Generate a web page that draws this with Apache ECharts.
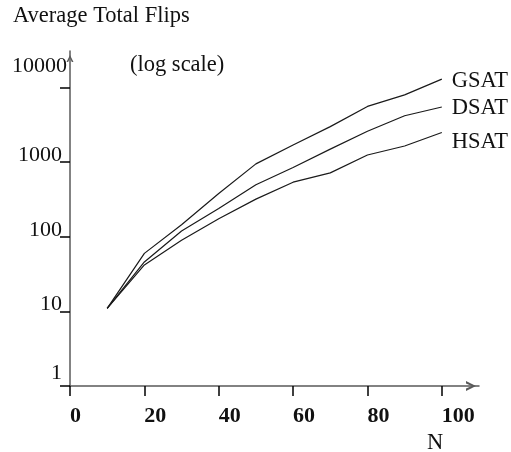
<!DOCTYPE html>
<html><head><meta charset="utf-8">
<script src="https://cdn.jsdelivr.net/npm/echarts@6/dist/echarts.min.js"></script>
<style>html,body{margin:0;padding:0;background:#fff}#c{width:511px;height:452px}</style>
</head><body><div id="c"></div>
<script>
const nValues = [10, 20, 30, 40, 50, 60, 70, 80, 90, 100];
const gsat = [11, 60, 145, 380, 950, 1700, 3000, 5600, 8000, 13000];
const dsat = [11, 46, 120, 240, 500, 850, 1500, 2600, 4200, 5500];
const hsat = [11, 42, 90, 175, 320, 540, 720, 1250, 1650, 2500];
const seriesNames = ['GSAT', 'DSAT', 'HSAT'];
const xTicks = [0, 20, 40, 60, 80, 100];
const yTicks = [1, 10, 100, 1000, 10000];
const yTitle = 'Average Total Flips';
const yNote = '(log scale)';
const xTitle = 'N';

const FONT = '"Liberation Serif", "Times New Roman", serif';
const TXT = 22.5;
const chart = echarts.init(document.getElementById('c'), null, {renderer: 'canvas'});
const seriesData = [gsat, dsat, hsat];
const labelOffsets = [[0, 2], [0, 1], [0, 10]];
const CHEVRON = 'path://M5,0 L10,10 L7.6,10 L5,4.2 L2.4,10 L0,10 Z';

function yLab(v) {
  if (v === 10000) return '{top|' + v + '}';
  if (v === 1) return '{one|' + v + '}';
  return '{mid|' + v + '}';
}

chart.setOption({
  animation: false,
  backgroundColor: '#fff',
  grid: {left: 70, right: 32, top: 51, bottom: 66, containLabel: false, outerBoundsMode: 'none'},
  xAxis: {
    type: 'value', min: 0, max: 110,
    axisLine: {show: true, lineStyle: {color: '#5a5a5a', width: 1.5},
      symbol: ['none', CHEVRON], symbolSize: [10, 16], symbolOffset: [0, -8]},
    axisTick: {show: true, length: 10, lineStyle: {color: '#000', width: 1.5}, customValues: xTicks},
    axisLabel: {show: true, customValues: xTicks, align: 'left', margin: 19, fontFamily: FONT, fontSize: 22, fontWeight: 'bold', color: '#111'},
    splitLine: {show: false}
  },
  yAxis: {
    type: 'log', logBase: 10, min: 1, max: 31000,
    axisLine: {show: true, lineStyle: {color: '#5a5a5a', width: 1.5},
      symbol: ['none', CHEVRON], symbolSize: [7, 15], symbolOffset: [0, -7.5]},
    axisTick: {show: true, length: 10, lineStyle: {color: '#000', width: 1.5}, customValues: yTicks},
    axisLabel: {show: true, customValues: yTicks, margin: 3, fontFamily: FONT, fontSize: 22, color: '#111',
      verticalAlign: 'middle',
      formatter: yLab,
      rich: {
        top: {fontFamily: FONT, fontSize: 22, color: '#111', padding: [0, 0, 43, 0]},
        mid: {fontFamily: FONT, fontSize: 22, color: '#111', padding: [0, 5, 14, 0]},
        one: {fontFamily: FONT, fontSize: 22, color: '#111', padding: [0, 5, 26, 0]}
      }},
    splitLine: {show: false}
  },
  graphic: [
    {type: 'text', left: 13, top: 5, style: {text: yTitle, font: TXT + 'px ' + FONT, fill: '#111'}},
    {type: 'text', left: 130, top: 54, style: {text: yNote, font: TXT + 'px ' + FONT, fill: '#111'}},
    {type: 'text', left: 427, top: 432, style: {text: xTitle, font: TXT + 'px ' + FONT, fill: '#111'}}
  ],
  series: seriesNames.map((name, i) => ({
    name: name,
    type: 'line',
    data: nValues.map((n, j) => [n, seriesData[i][j]]),
    showSymbol: false,
    symbol: 'none',
    lineStyle: {color: '#1a1a1a', width: 1.2},
    endLabel: {show: true, formatter: '{a}', distance: 10, offset: labelOffsets[i],
      fontFamily: FONT, fontSize: TXT, color: '#111'}
  }))
});
</script></body></html>
